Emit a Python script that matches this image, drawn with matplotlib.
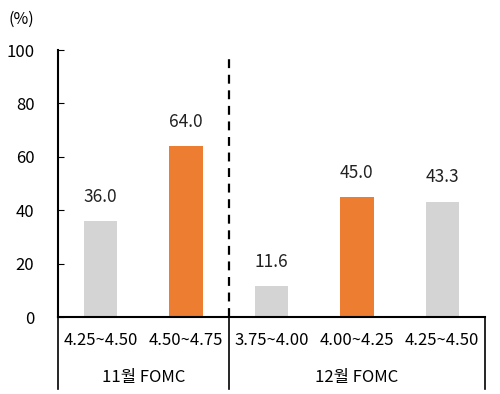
import matplotlib

matplotlib.use("Agg")
import matplotlib.pyplot as plt
import numpy as np

plt.rcParams["font.family"] = ["Noto Sans CJK KR", "DejaVu Sans"]

rate_ranges = ["4.25~4.50", "4.50~4.75", "3.75~4.00", "4.00~4.25", "4.25~4.50"]
probabilities = [36.0, 64.0, 11.6, 45.0, 43.3]
highlight = [False, True, False, True, False]
meeting_names = ["11월 FOMC", "12월 FOMC"]
meeting_sizes = [2, 3]

GRAY = "#d4d4d4"
ORANGE = "#ed7d31"

fig = plt.figure(figsize=(5.0, 3.94), dpi=100)
ax = fig.add_axes([0.116, 0.195, 0.854, 0.678])

x = np.arange(len(probabilities))
colors = [ORANGE if flag else GRAY for flag in highlight]
ax.bar(x, probabilities, width=0.39, color=colors)

for xi, value in zip(x, probabilities):
    ax.annotate(f"{value:.1f}", (xi, value), xytext=(0, 11), textcoords="offset points",
                ha="center", va="bottom", fontsize=12.5, color="#222222")

ax.set_xlim(-0.5, len(probabilities) - 0.5)
ax.set_ylim(0, 100)
ax.set_yticks(np.arange(0, 101, 20))
ax.tick_params(axis="y", direction="in", length=4, labelsize=12, pad=17)
ax.set_xticks(x)
ax.set_xticklabels(rate_ranges, fontsize=12)
ax.tick_params(axis="x", length=0, pad=11)

for side in ["top", "right"]:
    ax.spines[side].set_visible(False)
for side in ["left", "bottom"]:
    ax.spines[side].set_linewidth(1.5)

# dashed separator between the two meetings
split = meeting_sizes[0] - 0.5
ax.plot([split, split], [0, 97], color="black", linestyle=(0, (4, 3)), linewidth=1.6)

# group separators and meeting labels under the axis
trans = ax.get_xaxis_transform()
edges = np.concatenate([[-0.5], np.cumsum(meeting_sizes) - 0.5])
for edge in edges:
    ax.plot([edge, edge], [0, -0.27], color="black", linewidth=1.2,
            transform=trans, clip_on=False)
for name, left, right in zip(meeting_names, edges[:-1], edges[1:]):
    ax.text((left + right) / 2, -0.225, name, transform=trans,
            ha="center", va="center", fontsize=12)

fig.text(0.018, 0.95, "(%)", fontsize=11.5, ha="left", va="center")

fig.savefig("out.png", dpi=100)
